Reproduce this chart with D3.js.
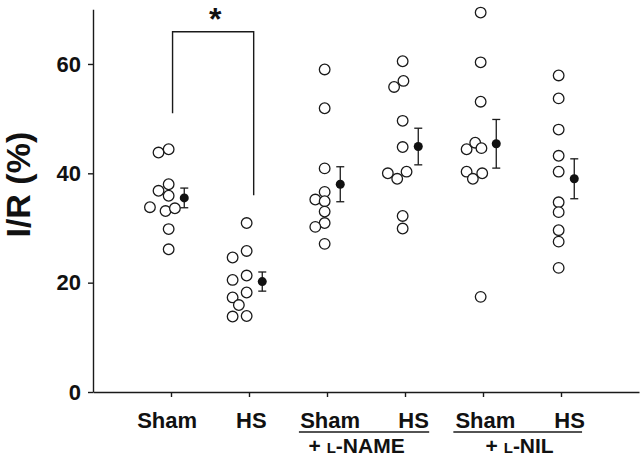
<!DOCTYPE html>
<html>
<head>
<meta charset="utf-8">
<script src="https://cdn.jsdelivr.net/npm/d3@7"></script>
<style>
  html, body { margin: 0; padding: 0; background: #fff; }
  svg { display: block; }
  text { font-family: "Liberation Sans", Arial, Helvetica, sans-serif; fill: #111; }
</style>
</head>
<body>
<svg id="chart" width="640" height="458"></svg>
<script>
// ---------- data ----------
const categories = ["Sham", "HS", "Sham", "HS", "Sham", "HS"];
const groupPos = [1, 2, 3, 4, 5, 6];
const yTicks = [0, 20, 40, 60];

const shamVals     = [43.8, 44.4, 38.0, 36.8, 35.9, 33.8, 33.1, 33.6, 29.8, 26.1];
const shamJit      = [-0.13, 0, 0, -0.13, 0, -0.24, -0.04, 0.08, 0, 0];
const hsVals       = [30.9, 25.8, 24.6, 20.5, 21.3, 18.2, 17.3, 15.9, 13.8, 13.9];
const hsJit        = [0, 0, -0.18, -0.18, 0, 0, -0.18, -0.10, -0.18, 0];
const shamNameVals = [59.0, 51.9, 40.9, 36.6, 35.2, 34.9, 33.0, 30.9, 30.2, 27.1];
const shamNameJit  = [0, 0, 0, 0, -0.12, 0, 0, 0, -0.12, 0];
const hsNameVals   = [60.5, 56.9, 55.8, 49.6, 44.8, 40.0, 40.3, 39.0, 32.2, 29.9];
const hsNameJit    = [0, 0.01, -0.11, 0, 0, -0.19, 0.05, -0.07, 0, 0];
const shamNilVals  = [69.4, 60.3, 53.1, 44.4, 45.6, 44.6, 40.3, 39.0, 40.0, 17.4];
const shamNilJit   = [0, 0, 0, -0.18, -0.07, 0.01, -0.18, -0.10, 0.02, 0];
const hsNilVals    = [57.9, 53.7, 48.0, 43.2, 40.3, 34.7, 32.9, 29.6, 27.5, 22.7];
const hsNilJit     = [0, 0, 0, 0, 0, 0, 0, 0, 0, 0];

const groupVals = [shamVals, hsVals, shamNameVals, hsNameVals, shamNilVals, hsNilVals];
const groupJit  = [shamJit, hsJit, shamNameJit, hsNameJit, shamNilJit, hsNilJit];

const means = [35.5, 20.2, 38.0, 44.9, 45.4, 39.0];
const sems  = [1.8, 1.75, 3.2, 3.35, 4.45, 3.65];

// significance bracket (Sham vs HS)
const bracketX = [1.02, 2.06];
const bracketTop = 65.9;
const bracketBottoms = [51.0, 36.0];

// x-axis label layout (category units)
const labelPos = [0.95, 2.03, 3.04, 4.11, 5.03, 6.11];
const underlines = [[2.64, 4.31], [4.62, 6.27]];
const treatments = [{pre: "+ ", sc: "L", post: "-NAME", pos: 3.38}, {pre: "+ ", sc: "L", post: "-NIL", pos: 5.47}];
const yTitle = "I/R (%)";

// ---------- drawing ----------
const svg = d3.select("#chart");
const x = d3.scaleLinear().domain([0, 7]).range([93, 639]);
const y = d3.scaleLinear().domain([0, 70]).range([392, 9.3]);
const ink = "#1a1a1a";

// Y axis
const yAxis = svg.append("g").attr("transform", `translate(${x(0)},0)`)
  .call(d3.axisLeft(y).tickValues(yTicks).tickSize(5).tickSizeOuter(0).tickPadding(7));
yAxis.select(".domain").attr("stroke", ink).attr("stroke-width", 1.4);
yAxis.selectAll(".tick line").attr("stroke", ink).attr("stroke-width", 1.4);
yAxis.selectAll(".tick text").attr("font-size", 22).attr("font-weight", "bold")
  .attr("font-family", '"Liberation Sans", Arial, sans-serif').attr("fill", "#111");

// X axis
const xAxis = svg.append("g").attr("transform", `translate(0,${y(0)})`)
  .call(d3.axisBottom(x).tickValues(groupPos).tickSize(5).tickSizeOuter(0).tickFormat(""));
xAxis.select(".domain").attr("stroke", ink).attr("stroke-width", 1.4);
xAxis.selectAll(".tick line").attr("stroke", ink).attr("stroke-width", 1.4);

// Y title
svg.append("text")
  .attr("transform", `translate(30,${(y(0) + y(70)) / 2 - 16}) rotate(-90)`)
  .attr("text-anchor", "middle")
  .attr("font-size", 34)
  .attr("font-weight", "bold")
  .text(yTitle);

// category labels
svg.selectAll("text.cat").data(categories).enter().append("text")
  .attr("class", "cat")
  .attr("x", (d, i) => x(labelPos[i]))
  .attr("y", y(0) + 36)
  .attr("text-anchor", "middle")
  .attr("font-size", 22)
  .attr("font-weight", "bold")
  .text(d => d);

// underlines
svg.selectAll("line.ul").data(underlines).enter().append("line")
  .attr("class", "ul")
  .attr("x1", d => x(d[0])).attr("x2", d => x(d[1]))
  .attr("y1", y(0) + 40).attr("y2", y(0) + 40)
  .attr("stroke", ink).attr("stroke-width", 1.4);

// treatment labels
const tr = svg.selectAll("text.tr").data(treatments).enter().append("text")
  .attr("class", "tr")
  .attr("x", d => x(d.pos))
  .attr("y", y(0) + 61)
  .attr("text-anchor", "middle")
  .attr("font-size", 21)
  .attr("font-weight", "bold");
tr.append("tspan").text(d => d.pre);
tr.append("tspan").attr("font-size", 15).text(d => d.sc);
tr.append("tspan").text(d => d.post);

// individual points
groupVals.forEach((vals, g) => {
  svg.append("g").selectAll("circle").data(vals).enter().append("circle")
    .attr("cx", (d, i) => x(groupPos[g] - 0.03 + groupJit[g][i]))
    .attr("cy", d => y(d))
    .attr("r", 5.3)
    .attr("fill", "#fff")
    .attr("stroke", ink)
    .attr("stroke-width", 1.3);
});

// mean ± SEM
const mg = svg.append("g");
means.forEach((m, g) => {
  const cx = x(groupPos[g] + 0.17);
  const s = sems[g];
  mg.append("line").attr("x1", cx).attr("x2", cx).attr("y1", y(m - s)).attr("y2", y(m + s))
    .attr("stroke", ink).attr("stroke-width", 1.3);
  [m - s, m + s].forEach(v => {
    mg.append("line").attr("x1", cx - 4).attr("x2", cx + 4).attr("y1", y(v)).attr("y2", y(v))
      .attr("stroke", ink).attr("stroke-width", 1.3);
  });
  mg.append("circle").attr("cx", cx).attr("cy", y(m)).attr("r", 4.5).attr("fill", "#111");
});

// significance bracket
const bp = d3.path();
bp.moveTo(x(bracketX[0]), y(bracketBottoms[0]));
bp.lineTo(x(bracketX[0]), y(bracketTop));
bp.lineTo(x(bracketX[1]), y(bracketTop));
bp.lineTo(x(bracketX[1]), y(bracketBottoms[1]));
svg.append("path").attr("d", bp.toString()).attr("fill", "none")
  .attr("stroke", ink).attr("stroke-width", 1.4);
svg.append("text")
  .attr("x", (x(bracketX[0]) + x(bracketX[1])) / 2 + 2)
  .attr("y", y(bracketTop) - 2)
  .attr("text-anchor", "middle")
  .attr("font-size", 32)
  .attr("font-weight", "bold")
  .text("*");
</script>
</body>
</html>
